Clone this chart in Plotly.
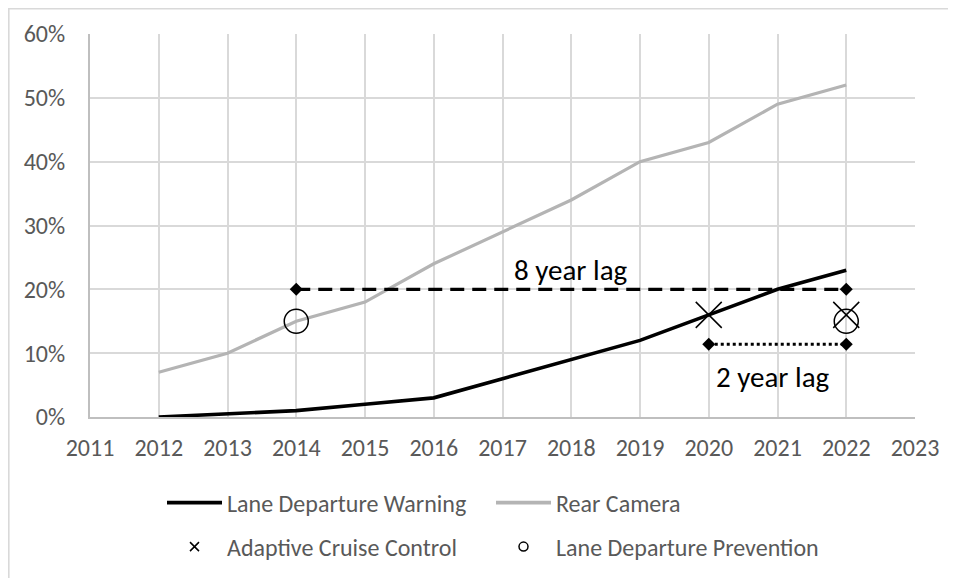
import plotly.graph_objects as go

years = [2012, 2013, 2014, 2015, 2016, 2017, 2018, 2019, 2020, 2021, 2022]
lane_departure_warning = [0.0, 0.005, 0.01, 0.02, 0.03, 0.06, 0.09, 0.12, 0.16, 0.20, 0.23]
rear_camera = [0.07, 0.10, 0.15, 0.18, 0.24, 0.29, 0.34, 0.40, 0.43, 0.49, 0.52]

acc_years = [2020, 2022]
acc_values = [0.16, 0.16]
ldp_years = [2014, 2022]
ldp_values = [0.15, 0.15]

lag8_years = [2014, 2022]
lag8_values = [0.20, 0.20]
lag2_years = [2020, 2022]
lag2_values = [0.114, 0.114]

x_ticks = list(range(2011, 2024))

FONT = "Carlito, Calibri, 'Liberation Sans Narrow', Lato, sans-serif"
TXT = "#595959"
GRID = "#d9d9d9"

# page has an 8px body margin; figure occupies 948x570 of the 956x578 window
W, H = 948, 570
ML, MT, MR, MB = 82, 26, 41, 161
PW = W - ML - MR
PH = H - MT - MB

fig = go.Figure()

fig.add_trace(go.Scatter(x=years, y=rear_camera, mode="lines",
                         line=dict(color="#b4b4b4", width=3.2),
                         showlegend=False, hoverinfo="skip"))
fig.add_trace(go.Scatter(x=years, y=lane_departure_warning, mode="lines",
                         line=dict(color="black", width=3.6),
                         showlegend=False, hoverinfo="skip"))
fig.add_trace(go.Scatter(x=lag8_years, y=lag8_values, mode="lines+markers",
                         line=dict(color="black", width=3.2, dash="14px,8px"),
                         marker=dict(symbol="diamond", size=10, color="black"),
                         showlegend=False, hoverinfo="skip"))
fig.add_trace(go.Scatter(x=lag2_years, y=lag2_values, mode="lines+markers",
                         line=dict(color="black", width=3.2, dash="3px,3px"),
                         marker=dict(symbol="diamond", size=10, color="black"),
                         showlegend=False, hoverinfo="skip"))
fig.add_trace(go.Scatter(x=acc_years, y=acc_values, mode="markers",
                         marker=dict(symbol="x-thin-open", size=26, color="black",
                                     line=dict(color="black", width=1.5)),
                         showlegend=False, hoverinfo="skip"))
fig.add_trace(go.Scatter(x=ldp_years, y=ldp_values, mode="markers",
                         marker=dict(symbol="circle-open", size=24, color="black",
                                     line=dict(color="black", width=1.5)),
                         showlegend=False, hoverinfo="skip"))

# legend entries
fig.add_trace(go.Scatter(x=[None], y=[None], mode="lines", name="Lane Departure Warning",
                         line=dict(color="black", width=3.6), legend="legend"))
fig.add_trace(go.Scatter(x=[None], y=[None], mode="lines", name="Rear Camera",
                         line=dict(color="#b4b4b4", width=3.6), legend="legend"))
fig.add_trace(go.Scatter(x=[None], y=[None], mode="markers", name="Adaptive Cruise Control",
                         marker=dict(symbol="x-thin-open", size=9, color="black",
                                     line=dict(color="black", width=1.5)), legend="legend2"))
fig.add_trace(go.Scatter(x=[None], y=[None], mode="markers", name="Lane Departure Prevention",
                         marker=dict(symbol="circle-open", size=9, color="black",
                                     line=dict(color="black", width=1.5)), legend="legend2"))

legend_common = dict(orientation="h", xref="container", yref="container",
                     xanchor="left", yanchor="middle", itemwidth=55,
                     entrywidth=259, font=dict(family=FONT, size=24, color=TXT),
                     bgcolor="rgba(0,0,0,0)", traceorder="normal")

fig.update_layout(
    width=W, height=H,
    margin=dict(l=ML, r=MR, t=MT, b=MB),
    paper_bgcolor="white", plot_bgcolor="white",
    font=dict(family=FONT, size=24, color=TXT),
    showlegend=True,
    legend=dict(x=154 / W, y=1 - 495 / H, **legend_common),
    legend2=dict(x=154 / W, y=1 - 539 / H, **legend_common),
    xaxis=dict(range=[2011, 2023], tickmode="array", tickvals=x_ticks,
               ticktext=[str(v) for v in x_ticks], showgrid=True, gridcolor=GRID,
               gridwidth=2, showline=True, linecolor="#bfbfbf", linewidth=2,
               zeroline=False, ticks="", ticklabelstandoff=8,
               tickfont=dict(family=FONT, size=24, color=TXT)),
    yaxis=dict(range=[0, 0.6], dtick=0.1, tickformat=".0%", showgrid=True,
               gridcolor=GRID, gridwidth=2, showline=True, linecolor="#bfbfbf",
               linewidth=2, zeroline=False, ticks="", ticklabelstandoff=18,
               tickfont=dict(family=FONT, size=24, color=TXT)),
    annotations=[
        dict(x=2018, y=0.23, xref="x", yref="y", text="8 year lag", showarrow=False,
             font=dict(family=FONT, size=29, color="black")),
        dict(x=2020.93, y=0.062, xref="x", yref="y", text="2 year lag", showarrow=False,
             font=dict(family=FONT, size=29, color="black")),
    ],
    shapes=[
        dict(type="rect", xref="paper", yref="paper",
             x0=(0.8 - ML) / PW, x1=1.3, y0=-0.6, y1=(H - MB - 0.8) / PH,
             line=dict(color=GRID, width=1.6), fillcolor="rgba(0,0,0,0)", layer="below"),
    ],
)

fig.write_html("out.html")
